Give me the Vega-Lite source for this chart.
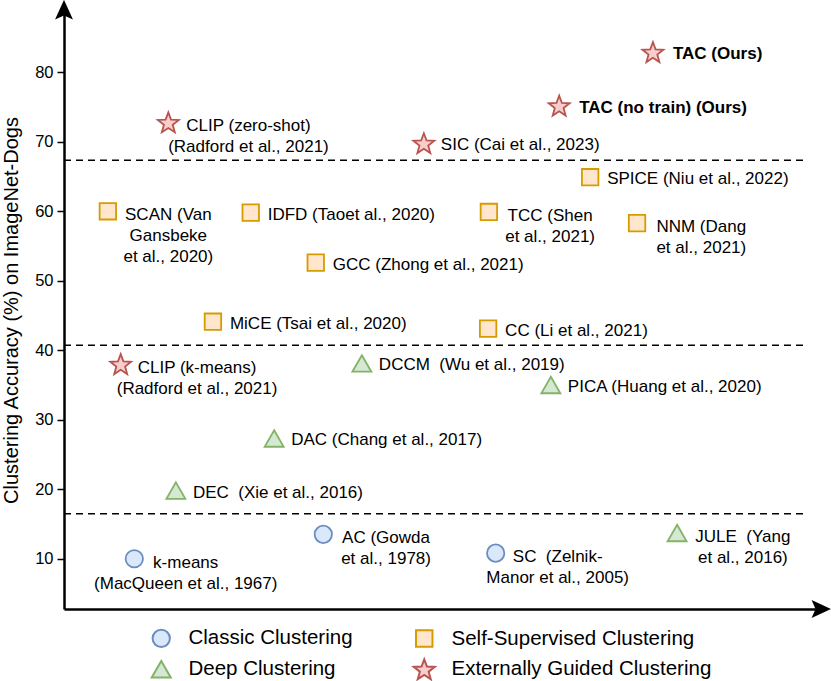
{
  "$schema": "https://vega.github.io/schema/vega-lite/v6.json",
  "width": 756,
  "height": 598,
  "autosize": {"type": "none"},
  "padding": {"left": 64, "top": 11, "right": 11, "bottom": 72},
  "background": "white",
  "config": {
    "view": {"stroke": null},
    "font": "Liberation Sans"
  },
  "datasets": {
    "methods": [
      {"label": "TAC (Ours)", "cat": "Externally Guided Clustering", "pos": 77.9, "acc": 82.9, "style": "bold"},
      {"label": "TAC (no train) (Ours)", "cat": "Externally Guided Clustering", "pos": 65.5, "acc": 75.2, "style": "bold"},
      {"label": "CLIP (zero-shot)\n(Radford et al., 2021)", "cat": "Externally Guided Clustering", "pos": 13.8, "acc": 72.8, "style": "multi", "lpos": 24.4},
      {"label": "SIC (Cai et al., 2023)", "cat": "Externally Guided Clustering", "pos": 47.6, "acc": 69.8, "style": "single"},
      {"label": "SPICE (Niu et al., 2022)", "cat": "Self-Supervised Clustering", "pos": 69.6, "acc": 64.9, "style": "single"},
      {"label": "SCAN (Van\nGansbeke\net al., 2020)", "cat": "Self-Supervised Clustering", "pos": 5.8, "acc": 60.0, "style": "multi", "lpos": 13.8},
      {"label": "IDFD (Taoet al., 2020)", "cat": "Self-Supervised Clustering", "pos": 24.7, "acc": 59.8, "style": "single"},
      {"label": "TCC (Shen\net al., 2021)", "cat": "Self-Supervised Clustering", "pos": 56.2, "acc": 59.9, "style": "multi", "lpos": 64.3},
      {"label": "NNM (Dang\net al., 2021)", "cat": "Self-Supervised Clustering", "pos": 75.8, "acc": 58.3, "style": "multi", "lpos": 84.3},
      {"label": "GCC (Zhong et al., 2021)", "cat": "Self-Supervised Clustering", "pos": 33.3, "acc": 52.6, "style": "single"},
      {"label": "MiCE (Tsai et al., 2020)", "cat": "Self-Supervised Clustering", "pos": 19.7, "acc": 44.1, "style": "single"},
      {"label": "CC (Li et al., 2021)", "cat": "Self-Supervised Clustering", "pos": 56.1, "acc": 43.1, "style": "single"},
      {"label": "CLIP (k-means)\n(Radford et al., 2021)", "cat": "Externally Guided Clustering", "pos": 7.5, "acc": 38.0, "style": "multi", "lpos": 17.6},
      {"label": "DCCM\u00a0 (Wu et al., 2019)", "cat": "Deep Clustering", "pos": 39.4, "acc": 38.1, "style": "single"},
      {"label": "PICA (Huang et al., 2020)", "cat": "Deep Clustering", "pos": 64.4, "acc": 35.0, "style": "single"},
      {"label": "DAC (Chang et al., 2017)", "cat": "Deep Clustering", "pos": 27.8, "acc": 27.3, "style": "single"},
      {"label": "DEC\u00a0 (Xie et al., 2016)", "cat": "Deep Clustering", "pos": 14.8, "acc": 19.8, "style": "single"},
      {"label": "AC (Gowda\net al., 1978)", "cat": "Classic Clustering", "pos": 34.3, "acc": 13.5, "style": "multi", "lpos": 42.6},
      {"label": "k-means\n(MacQueen et al., 1967)", "cat": "Classic Clustering", "pos": 9.3, "acc": 10.0, "style": "multi", "lpos": 16.1},
      {"label": "SC\u00a0 (Zelnik-\nManor et al., 2005)", "cat": "Classic Clustering", "pos": 57.1, "acc": 10.8, "style": "multi", "lpos": 65.3},
      {"label": "JULE\u00a0 (Yang\net al., 2016)", "cat": "Deep Clustering", "pos": 81.1, "acc": 13.7, "style": "multi", "lpos": 89.8}
    ],
    "levels": [{"acc": 67.35}, {"acc": 40.7}, {"acc": 16.45}],
    "arrows": [{"dir": "up", "pos": 0, "acc": 88.82}, {"dir": "right", "pos": 100, "acc": 2.76}]
  },
  "layer": [
    {
      "data": {"name": "methods"},
      "mark": {"type": "point", "filled": true, "strokeWidth": 1.8, "opacity": 1, "size": 300},
      "encoding": {
        "x": {
          "field": "pos", "type": "quantitative",
          "scale": {"domain": [0, 100], "nice": false, "zero": false},
          "axis": {"title": null, "labels": false, "ticks": false, "grid": false, "domainColor": "#000000", "domainWidth": 2.5}
        },
        "y": {
          "field": "acc", "type": "quantitative",
          "scale": {"domain": [2.76, 88.82], "nice": false, "zero": false},
          "axis": {
            "title": "Clustering Accuracy (%) on ImageNet-Dogs",
            "titleFont": "Liberation Sans", "titleFontSize": 20, "titleFontWeight": "normal", "titleColor": "#000000", "titlePadding": 13,
            "values": [10, 20, 30, 40, 50, 60, 70, 80],
            "labelFont": "Liberation Sans", "labelFontSize": 16.5, "labelColor": "#000000", "labelPadding": 4,
            "tickSize": 7, "tickWidth": 1.5, "tickColor": "#000000",
            "grid": false, "domainColor": "#000000", "domainWidth": 2.5
          }
        },
        "shape": {
          "field": "cat", "type": "nominal",
          "scale": {"domain": ["Classic Clustering", "Deep Clustering", "Self-Supervised Clustering", "Externally Guided Clustering"], "range": ["circle", "M0,-0.953L1.097,0.953L-1.097,0.953Z", "M-0.95,-0.95L0.95,-0.95L0.95,0.95L-0.95,0.95Z", "M0,-1.15L0.313,-0.311L1.208,-0.272L0.507,0.285L0.747,1.147L0,0.653L-0.747,1.147L-0.507,0.285L-1.208,-0.272L-0.313,-0.311Z"]},
          "legend": {"title": null, "orient": "none", "legendX": 87, "legendY": 617, "columns": 2, "labelFont": "Liberation Sans", "labelFontSize": 20.5, "labelColor": "#000000", "labelLimit": 400, "symbolSize": 300, "symbolStrokeWidth": 2, "labelOffset": 17, "columnPadding": 56, "rowPadding": 4}
        },
        "fill": {
          "field": "cat", "type": "nominal",
          "scale": {"domain": ["Classic Clustering", "Deep Clustering", "Self-Supervised Clustering", "Externally Guided Clustering"], "range": ["#dae8fc", "#d5e8d4", "#ffe6cc", "#f8cecc"]},
          "legend": {"title": null, "orient": "none", "legendX": 87, "legendY": 617, "columns": 2, "labelFont": "Liberation Sans", "labelFontSize": 20.5, "labelColor": "#000000", "labelLimit": 400, "symbolSize": 300, "symbolStrokeWidth": 2, "labelOffset": 17, "columnPadding": 56, "rowPadding": 4}
        },
        "stroke": {
          "field": "cat", "type": "nominal",
          "scale": {"domain": ["Classic Clustering", "Deep Clustering", "Self-Supervised Clustering", "Externally Guided Clustering"], "range": ["#6c8ebf", "#82b366", "#d79b00", "#b85450"]},
          "legend": {"title": null, "orient": "none", "legendX": 87, "legendY": 617, "columns": 2, "labelFont": "Liberation Sans", "labelFontSize": 20.5, "labelColor": "#000000", "labelLimit": 400, "symbolSize": 300, "symbolStrokeWidth": 2, "labelOffset": 17, "columnPadding": 56, "rowPadding": 4}
        }
      }
    },
    {
      "data": {"name": "levels"},
      "mark": {"type": "rule", "strokeDash": [7, 5], "strokeWidth": 1.5, "color": "#000000"},
      "encoding": {
        "y": {"field": "acc", "type": "quantitative"},
        "x": {"datum": 0, "type": "quantitative"},
        "x2": {"datum": 98.4}
      }
    },
    {
      "data": {"name": "methods"},
      "transform": [{"filter": "datum.style === 'single'"}],
      "mark": {"type": "text", "align": "left", "baseline": "middle", "dx": 17, "dy": 2, "fontSize": 17, "font": "Liberation Sans", "color": "#000000"},
      "encoding": {
        "x": {"field": "pos", "type": "quantitative"},
        "y": {"field": "acc", "type": "quantitative"},
        "text": {"field": "label"}
      }
    },
    {
      "data": {"name": "methods"},
      "transform": [{"filter": "datum.style === 'bold'"}],
      "mark": {"type": "text", "align": "left", "baseline": "middle", "dx": 20, "dy": 2, "fontSize": 17, "fontWeight": "bold", "font": "Liberation Sans", "color": "#000000"},
      "encoding": {
        "x": {"field": "pos", "type": "quantitative"},
        "y": {"field": "acc", "type": "quantitative"},
        "text": {"field": "label"}
      }
    },
    {
      "data": {"name": "methods"},
      "transform": [{"filter": "datum.style === 'multi'"}],
      "mark": {"type": "text", "align": "center", "baseline": "top", "dy": -4, "fontSize": 17, "lineBreak": "\n", "lineHeight": 21, "font": "Liberation Sans", "color": "#000000"},
      "encoding": {
        "x": {"field": "lpos", "type": "quantitative"},
        "y": {"field": "acc", "type": "quantitative"},
        "text": {"field": "label"}
      }
    },
    {
      "data": {"name": "arrows"},
      "transform": [{"filter": "datum.dir === 'up'"}],
      "mark": {"type": "point", "shape": "M0,-1L0.8,0.75L0,0.4L-0.8,0.75Z", "filled": true, "color": "#000000", "size": 500, "opacity": 1},
      "encoding": {
        "x": {"field": "pos", "type": "quantitative"},
        "y": {"field": "acc", "type": "quantitative"}
      }
    },
    {
      "data": {"name": "arrows"},
      "transform": [{"filter": "datum.dir === 'right'"}],
      "mark": {"type": "point", "shape": "M1,0L-0.75,0.8L-0.4,0L-0.75,-0.8Z", "filled": true, "color": "#000000", "size": 500, "opacity": 1},
      "encoding": {
        "x": {"field": "pos", "type": "quantitative"},
        "y": {"field": "acc", "type": "quantitative"}
      }
    }
  ]
}
